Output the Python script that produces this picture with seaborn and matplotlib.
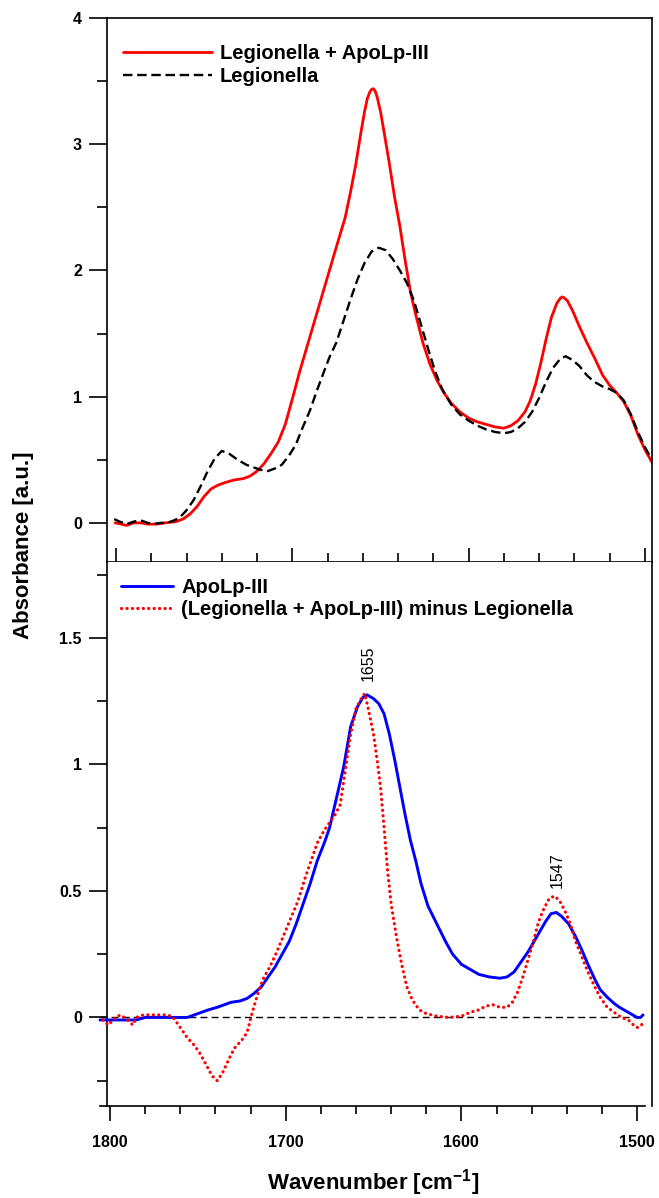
import numpy as np
import pandas as pd
import matplotlib
matplotlib.use("Agg")
import matplotlib.pyplot as plt
from matplotlib.ticker import MultipleLocator, FuncFormatter
import seaborn as sns

# top panel: Legionella + ApoLp-III (red) and Legionella (black dashed)
wn_mix = [1800.5, 1797, 1794, 1790, 1786, 1782, 1777, 1772, 1766, 1762, 1758, 1754, 1750, 1746,
          1742, 1738, 1733, 1728, 1724, 1720, 1716, 1712, 1708, 1704, 1700, 1696, 1692, 1688,
          1684, 1680, 1676, 1673, 1670, 1667, 1664, 1661, 1659, 1657.5, 1656, 1655, 1654, 1653,
          1652, 1650, 1648, 1645, 1642, 1639, 1636, 1633, 1630, 1626, 1622, 1618, 1614, 1610,
          1605, 1600, 1595, 1590, 1585, 1580, 1576, 1572, 1568, 1565, 1562, 1559, 1556, 1553,
          1550, 1548, 1547, 1546, 1544, 1541, 1537, 1533, 1528, 1524, 1520, 1516, 1512, 1508,
          1504, 1500, 1496]
abs_mix = [0.00, -0.01, -0.02, 0.0, 0.0, -0.01, -0.01, 0.0, 0.01, 0.03, 0.07, 0.13, 0.21, 0.27,
           0.30, 0.32, 0.34, 0.35, 0.37, 0.41, 0.47, 0.55, 0.64, 0.78, 0.98, 1.19, 1.38, 1.57,
           1.76, 1.95, 2.14, 2.28, 2.42, 2.62, 2.84, 3.10, 3.26, 3.36, 3.415, 3.435, 3.44, 3.42,
           3.38, 3.26, 3.10, 2.85, 2.58, 2.35, 2.08, 1.83, 1.65, 1.43, 1.26, 1.13, 1.03, 0.95,
           0.88, 0.83, 0.80, 0.78, 0.76, 0.75, 0.77, 0.81, 0.88, 0.97, 1.10, 1.27, 1.46, 1.63,
           1.74, 1.78, 1.79, 1.785, 1.76, 1.68, 1.55, 1.43, 1.29, 1.17, 1.09, 1.03, 0.96, 0.85,
           0.70, 0.58, 0.48]

wn_leg = [1801, 1798, 1794, 1790, 1786, 1782, 1779, 1775, 1771, 1767, 1764, 1760, 1756, 1752,
          1748, 1744, 1740, 1736, 1731, 1726, 1722, 1718, 1714, 1710, 1706, 1702, 1698, 1694,
          1690, 1686, 1682, 1679, 1675, 1671, 1667, 1663, 1659, 1655, 1651, 1647, 1643, 1639,
          1635, 1631, 1627, 1623, 1619, 1615, 1610, 1605, 1600, 1595, 1590, 1585, 1580, 1576,
          1572, 1568, 1564, 1560, 1556, 1552, 1548, 1545, 1541, 1537, 1533, 1529, 1524, 1520,
          1516, 1512, 1508, 1504, 1500, 1496]
abs_leg = [0.03, 0.01, -0.01, 0.01, 0.02, 0.0, -0.01, 0.0, 0.0, 0.02, 0.04, 0.10, 0.18, 0.29,
           0.41, 0.51, 0.57, 0.55, 0.50, 0.46, 0.44, 0.42, 0.41, 0.43, 0.46, 0.53, 0.62, 0.76,
           0.89, 1.05, 1.20, 1.31, 1.43, 1.60, 1.77, 1.93, 2.06, 2.15, 2.18, 2.16, 2.09, 2.00,
           1.90, 1.76, 1.57, 1.38, 1.20, 1.06, 0.94, 0.86, 0.81, 0.77, 0.74, 0.72, 0.71, 0.72,
           0.75, 0.80, 0.88, 0.99, 1.12, 1.23, 1.30, 1.32, 1.29, 1.24, 1.17, 1.12, 1.08, 1.06,
           1.03, 0.97, 0.86, 0.72, 0.60, 0.50]

# bottom panel: ApoLp-III (blue) and the difference spectrum (red dotted)
wn_apo = [1805.7, 1800, 1795, 1790, 1785, 1780, 1775, 1770, 1765, 1760, 1756, 1752, 1748, 1744,
          1739, 1735, 1731, 1726, 1722, 1718, 1714, 1710, 1706, 1702, 1698, 1694, 1690, 1686,
          1682, 1678, 1675, 1671, 1667, 1663, 1659, 1656, 1653.7, 1650, 1647, 1644, 1641, 1638,
          1635, 1632, 1629, 1626, 1623, 1619, 1614, 1609, 1605, 1600, 1595, 1590, 1584, 1578,
          1574, 1570, 1567, 1562, 1557, 1552, 1549, 1546, 1543, 1539, 1535, 1531, 1528, 1524,
          1521, 1517, 1513, 1510, 1505, 1500, 1498, 1496.6]
abs_apo = [-0.01, -0.01, -0.01, -0.01, -0.01, 0.0, 0.0, 0.0, 0.0, 0.0, 0.0, 0.01, 0.02, 0.03,
           0.04, 0.05, 0.06, 0.065, 0.075, 0.095, 0.12, 0.16, 0.20, 0.25, 0.30, 0.37, 0.45, 0.53,
           0.62, 0.69, 0.75, 0.87, 0.99, 1.15, 1.23, 1.265, 1.275, 1.26, 1.24, 1.20, 1.12, 1.02,
           0.91, 0.80, 0.70, 0.62, 0.53, 0.44, 0.37, 0.30, 0.25, 0.21, 0.19, 0.17, 0.16, 0.155,
           0.16, 0.18, 0.21, 0.26, 0.32, 0.38, 0.41, 0.415, 0.40, 0.37, 0.32, 0.26, 0.21, 0.15,
           0.11, 0.08, 0.055, 0.04, 0.02, 0.0, 0.0, 0.01]

wn_diff = [1804, 1801, 1797, 1794, 1790, 1787, 1785, 1781, 1776, 1771, 1767, 1764, 1760, 1756,
           1752, 1749, 1745, 1742, 1739, 1736, 1732, 1729, 1725, 1722, 1719, 1716, 1713, 1709,
           1705, 1702, 1699, 1696, 1693, 1689, 1685, 1682, 1678, 1675, 1672, 1669, 1666, 1663,
           1660, 1657, 1655, 1653, 1650, 1648, 1646, 1644, 1642, 1640, 1637, 1634, 1631, 1628,
           1624, 1620, 1614, 1607, 1600, 1595, 1590, 1586, 1582, 1578, 1574, 1571, 1568, 1565,
           1562, 1559, 1556, 1553, 1550, 1547, 1544, 1541, 1538, 1535, 1532, 1528, 1524, 1521,
           1517, 1513, 1509, 1505, 1502, 1500, 1498, 1496.6]
abs_diff = [-0.01, -0.03, 0.0, 0.01, -0.01, -0.03, 0.0, 0.01, 0.01, 0.01, 0.01, 0.0, -0.04, -0.08,
            -0.11, -0.14, -0.19, -0.23, -0.25, -0.22, -0.16, -0.12, -0.09, -0.06, 0.02, 0.09, 0.15,
            0.20, 0.26, 0.31, 0.36, 0.41, 0.46, 0.55, 0.63, 0.69, 0.74, 0.77, 0.80, 0.84, 0.98,
            1.12, 1.22, 1.26, 1.28, 1.22, 1.12, 1.02, 0.91, 0.75, 0.58, 0.45, 0.32, 0.21, 0.12,
            0.07, 0.03, 0.015, 0.005, 0.0, 0.005, 0.02, 0.03, 0.045, 0.05, 0.04, 0.04, 0.06, 0.10,
            0.16, 0.23, 0.30, 0.38, 0.43, 0.47, 0.48, 0.46, 0.42, 0.37, 0.30, 0.25, 0.18, 0.12,
            0.08, 0.04, 0.02, 0.0, -0.01, -0.03, -0.04, -0.035, -0.02]

peak_labels = ["1655", "1547"]
peak_pos = [(1653, 1.33), (1545.6, 0.51)]

sns.set_style("ticks")
plt.rcParams["font.family"] = ["Liberation Sans", "DejaVu Sans"]
plt.rcParams["mathtext.fontset"] = "custom"
plt.rcParams["mathtext.rm"] = "Liberation Sans"
plt.rcParams["mathtext.bf"] = "Liberation Sans:bold"
plt.rcParams["axes.linewidth"] = 1.2
for key in ["text.color", "axes.labelcolor", "axes.edgecolor", "xtick.color", "ytick.color"]:
    plt.rcParams[key] = "black"

fig = plt.figure(figsize=(6.59, 11.98), dpi=100)
ax1 = fig.add_axes([107 / 659, 1 - 562 / 1198, 545 / 659, 544 / 1198])
ax2 = fig.add_axes([107 / 659, 1 - 1106 / 1198, 545 / 659, 544 / 1198])

top = pd.DataFrame({"wn": wn_mix, "a": abs_mix})
top2 = pd.DataFrame({"wn": wn_leg, "a": abs_leg})
sns.lineplot(data=top, x="wn", y="a", ax=ax1, color="#ff0000", lw=2.0, sort=False,
             estimator=None, label="Legionella + ApoLp-III")
sns.lineplot(data=top2, x="wn", y="a", ax=ax1, color="black", lw=1.7, sort=False,
             estimator=None, label="Legionella", linestyle=(0, (4, 2)))

bot = pd.DataFrame({"wn": wn_apo, "a": abs_apo})
bot2 = pd.DataFrame({"wn": wn_diff, "a": abs_diff})
wn_all = wn_apo + wn_diff
ax2.plot([max(wn_all), min(wn_all)], [0, 0], color="black", lw=1.0,
         linestyle=(0, (5, 3)), clip_on=False, zorder=1)
sns.lineplot(data=bot, x="wn", y="a", ax=ax2, color="#0000ff", lw=2.1, sort=False,
             estimator=None, label="ApoLp-III", zorder=3)
sns.lineplot(data=bot2, x="wn", y="a", ax=ax2, color="#ff0000", lw=2.3, sort=False,
             estimator=None, label="(Legionella + ApoLp-III) minus Legionella",
             linestyle=(0, (0.05, 1.65)), dash_capstyle="round", zorder=4)
for ln in ax2.lines:
    ln.set_clip_on(False)

for t, (x, y) in zip(peak_labels, peak_pos):
    ax2.text(x, y, t, rotation=90, ha="center", va="bottom", fontsize=11.5)

fmt = FuncFormatter(lambda v, p: "%g" % v)

ax1.set_xlim(1805.1, 1496.0)
ax1.set_ylim(-0.31, 4.0)
ax1.yaxis.set_major_locator(MultipleLocator(1))
ax1.yaxis.set_minor_locator(MultipleLocator(0.5))
ax1.xaxis.set_major_locator(MultipleLocator(100))
ax1.xaxis.set_minor_locator(MultipleLocator(20))
ax1.yaxis.set_major_formatter(fmt)
ax1.tick_params(axis="x", which="major", direction="in", length=10, width=1.2, labelbottom=False)
ax1.tick_params(axis="x", which="minor", direction="in", length=6.5, width=1.2)

ax2.set_xlim(1801.7, 1491.5)
ax2.set_ylim(-0.35, 1.8)
ax2.yaxis.set_major_locator(MultipleLocator(0.5))
ax2.yaxis.set_minor_locator(MultipleLocator(0.25))
ax2.xaxis.set_major_locator(MultipleLocator(100))
ax2.xaxis.set_minor_locator(MultipleLocator(20))
ax2.yaxis.set_major_formatter(fmt)
ax2.xaxis.set_major_formatter(fmt)
ax2.tick_params(axis="x", which="major", direction="out", length=11, width=1.2, pad=10,
                labelsize=11.5)
ax2.tick_params(axis="x", which="minor", direction="out", length=6, width=1.2)
ax2.spines["top"].set_visible(False)
ax2.spines["bottom"].set_bounds(max(wn_all), 1495.3)
for lab in ax2.get_xticklabels():
    lab.set_fontweight("bold")

for ax in (ax1, ax2):
    ax.tick_params(axis="y", which="major", direction="out", length=13, width=1.2, pad=5,
                   labelsize=11.5)
    ax.tick_params(axis="y", which="minor", direction="out", length=7, width=1.2)
    for lab in ax.get_yticklabels():
        lab.set_fontweight("bold")
    ax.set_xlabel("")
    ax.set_ylabel("")

leg1 = ax1.legend(loc="upper left", bbox_to_anchor=(16 / 545, 1 - 26 / 544), frameon=False,
                  prop={"weight": "bold", "size": 14.5}, handlelength=4.4, handletextpad=0.4,
                  labelspacing=0.2, borderpad=0, borderaxespad=0)
leg2 = ax2.legend(loc="upper left", bbox_to_anchor=(14 / 545, 1 - 16 / 544), frameon=False,
                  prop={"weight": "bold", "size": 14.5}, handlelength=2.6, handletextpad=0.4,
                  labelspacing=0.15, borderpad=0, borderaxespad=0)

fig.text(23 / 659, 1 - 545 / 1198, "Absorbance [a.u.]", rotation=90, ha="center", va="center",
         fontsize=16, fontweight="bold")
fig.text(373 / 659, 1 - 1183 / 1198, r"Wavenumber [cm$^{\mathbf{-1}}$]", ha="center",
         va="center", fontsize=16, fontweight="bold")

fig.savefig("out.png", dpi=100)
